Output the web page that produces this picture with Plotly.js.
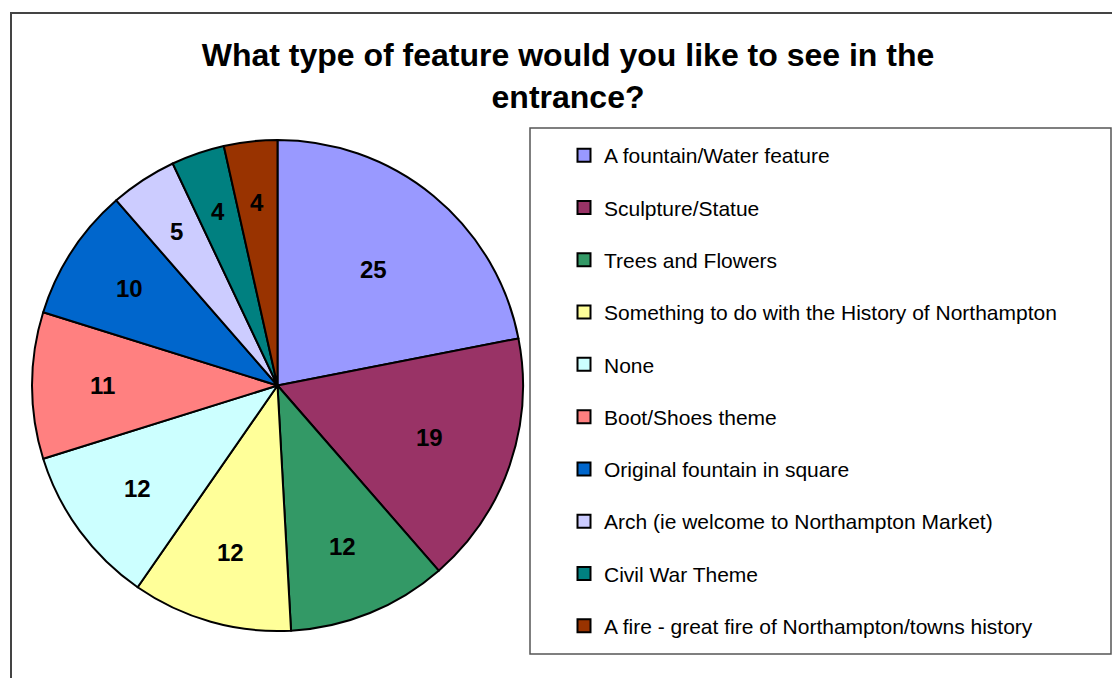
<!DOCTYPE html>
<html>
<head>
<meta charset="utf-8">
<script src="https://cdn.plot.ly/plotly-3.0.1.min.js"></script>
<style>html,body{margin:0;padding:0;background:#fff;}#chart{width:1112px;height:678px;}</style>
</head>
<body>
<div id="chart"></div>
<script>
const categories = [
  "A fountain/Water feature",
  "Sculpture/Statue",
  "Trees and Flowers",
  "Something to do with the History of Northampton",
  "None",
  "Boot/Shoes theme",
  "Original fountain in square",
  "Arch (ie welcome to Northampton Market)",
  "Civil War Theme",
  "A fire - great fire of Northampton/towns history"
];
const values = [25, 19, 12, 12, 12, 11, 10, 5, 4, 4];
const colors = ["#9999FF", "#993366", "#339966", "#FFFF99", "#CCFFFF", "#FF8080", "#0066CC", "#CCCCFF", "#008080", "#993300"];
const titleText = "What type of feature would you like to see in the<br>entrance?";

const FONT = "Liberation Sans, Arial, sans-serif";
const W = 1112, H = 678;

// pie geometry (pixels)
const pieBox = {x0: 32, x1: 523, y0: 140, y1: 631};
const domain = {x: [pieBox.x0 / W, pieBox.x1 / W], y: [1 - pieBox.y1 / H, 1 - pieBox.y0 / H]};

const pie = {
  type: "pie",
  labels: categories,
  values: values,
  sort: false,
  direction: "clockwise",
  rotation: 0,
  marker: {colors: colors, line: {color: "#000", width: 2}},
  textinfo: "none",
  hoverinfo: "label+value",
  showlegend: false,
  domain: domain
};

// data labels placed at the slice mid-angle (Excel-like best fit radius)
const total = values.reduce((a, b) => a + b, 0);
const cx = (pieBox.x0 + pieBox.x1) / 2, cy = (pieBox.y0 + pieBox.y1) / 2;
const R = (pieBox.x1 - pieBox.x0) / 2;
let cum = 0;
const labelAnnotations = values.map(v => {
  const p = v / total;
  const mid = (cum + v / 2) / total * 2 * Math.PI;
  cum += v;
  const k = 0.75 - 0.8 * Math.max(0, p - 0.05);
  const px = cx + k * R * Math.sin(mid);
  const py = cy - k * R * Math.cos(mid);
  return {
    xref: "paper", yref: "paper", x: px / W, y: 1 - py / H,
    xanchor: "center", yanchor: "middle", showarrow: false,
    text: "<b>" + v + "</b>",
    font: {family: FONT, size: 24, color: "#000"}
  };
});

const legendTraces = categories.map((c, i) => ({
  type: "scatter",
  mode: "markers",
  x: [null], y: [null],
  name: c,
  legendgroup: "g" + i,
  marker: {symbol: "square", size: 13, color: colors[i], line: {color: "#000", width: 2}},
  hoverinfo: "skip"
}));

const layout = {
  width: W, height: H,
  margin: {l: 0, r: 0, t: 0, b: 0},
  paper_bgcolor: "#fff",
  plot_bgcolor: "#fff",
  font: {family: FONT, color: "#000"},
  title: {
    text: "<b>" + titleText + "</b>",
    font: {family: FONT, size: 32, color: "#000"},
    x: 568 / W, xanchor: "center",
    y: 1 - 66 / H, yanchor: "middle",
    xref: "paper", yref: "paper"
  },
  xaxis: {visible: false, fixedrange: true},
  yaxis: {visible: false, fixedrange: true},
  showlegend: true,
  legend: {
    x: 564 / W, xanchor: "left",
    y: 1 - 135 / H, yanchor: "top",
    traceorder: "grouped",
    tracegroupgap: 22,
    font: {family: FONT, size: 21, color: "#000"},
    bgcolor: "rgba(0,0,0,0)",
    borderwidth: 0
  },
  annotations: labelAnnotations,
  shapes: [
    {type: "rect", xref: "paper", yref: "paper", x0: 11 / W, x1: 1.02, y0: -0.02, y1: 1 - 13 / H,
     line: {color: "#444", width: 2}, fillcolor: "rgba(0,0,0,0)", layer: "below"},
    {type: "rect", xref: "paper", yref: "paper", x0: 530 / W, x1: 1111 / W, y0: 1 - 654 / H, y1: 1 - 128 / H,
     line: {color: "#555", width: 1.5}, fillcolor: "rgba(0,0,0,0)", layer: "below"}
  ]
};

Plotly.newPlot("chart", [pie].concat(legendTraces), layout, {displayModeBar: false, staticPlot: true});
</script>
</body>
</html>
